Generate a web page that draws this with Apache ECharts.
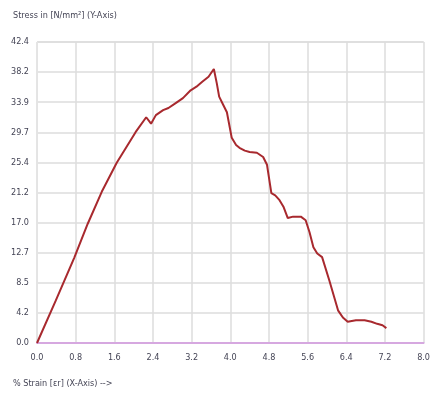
<!DOCTYPE html>
<html>
<head>
<meta charset="utf-8">
<script src="https://cdn.jsdelivr.net/npm/echarts@6/dist/echarts.min.js"></script>
<style>
html,body{margin:0;padding:0;background:#fff;}
#chart{width:433px;height:394px;}
</style>
</head>
<body>
<div id="chart"></div>
<script>
// Strain (%) values
var strain = [0, 0.39, 0.77, 1.05, 1.34, 1.65, 2.04, 2.26, 2.36, 2.46, 2.61, 2.72, 2.87, 3.02, 3.18, 3.30, 3.42, 3.55, 3.66, 3.72, 3.77, 3.85, 3.93, 4.03, 4.12, 4.19, 4.30, 4.40, 4.55, 4.68, 4.76, 4.85, 4.93, 5.01, 5.10, 5.19, 5.30, 5.46, 5.56, 5.64, 5.72, 5.80, 5.90, 6.05, 6.23, 6.33, 6.43, 6.60, 6.78, 6.92, 7.04, 7.15, 7.23];
// Stress (N/mm²) values
var stress = [0, 6.0, 12.0, 16.8, 21.3, 25.4, 29.7, 31.8, 30.9, 32.1, 32.8, 33.1, 33.8, 34.5, 35.6, 36.1, 36.8, 37.5, 38.6, 36.6, 34.7, 33.6, 32.5, 28.9, 27.9, 27.5, 27.1, 26.9, 26.8, 26.2, 25.1, 21.1, 20.8, 20.2, 19.2, 17.6, 17.8, 17.8, 17.3, 15.6, 13.5, 12.6, 12.1, 8.8, 4.6, 3.6, 3.0, 3.2, 3.2, 3.0, 2.7, 2.5, 2.1];
var yTitle = 'Stress in [N/mm²] (Y-Axis)';
var xTitle = '% Strain [εr] (X-Axis) -->';

var pts = strain.map(function (s, i) { return [s, stress[i]]; });
var fontFam = '"Liberation Sans Narrow", "DejaVu Sans Condensed", sans-serif';

var chart = echarts.init(document.getElementById('chart'));
chart.setOption({
  backgroundColor: '#ffffff',
  animation: false,
  grid: { left: 37, top: 42, right: 3, bottom: 51, containLabel: false },
  graphic: [
    { type: 'text', left: 13, top: 11, style: { text: yTitle, fill: '#444455', font: '9px ' + fontFam } },
    { type: 'text', left: 13, top: 379, style: { text: xTitle, fill: '#444455', font: '9px ' + fontFam } }
  ],
  xAxis: {
    type: 'value', min: 0, max: 8, interval: 0.8,
    axisLine: { show: true, lineStyle: { color: '#d6a8e0', width: 2 } },
    axisTick: { show: false },
    axisLabel: { color: '#444455', fontSize: 9, fontFamily: fontFam, margin: 10,
      formatter: function (v) { return v.toFixed(1); } },
    splitLine: { show: true, lineStyle: { color: '#dcdcdc', width: 1.5 } }
  },
  yAxis: {
    type: 'value', min: 0, max: 42.40001, interval: 4.24,
    axisLine: { show: true, lineStyle: { color: '#e4e4e4', width: 1 } },
    axisTick: { show: false },
    axisLabel: { color: '#444455', fontSize: 9, fontFamily: fontFam, margin: 8,
      formatter: function (v) { return v.toFixed(1); } },
    splitLine: { show: true, lineStyle: { color: '#dcdcdc', width: 1.5 } }
  },
  series: [{
    type: 'line', data: pts, showSymbol: false, smooth: false,
    lineStyle: { color: '#a8292e', width: 2 }
  }]
});
</script>
</body>
</html>
